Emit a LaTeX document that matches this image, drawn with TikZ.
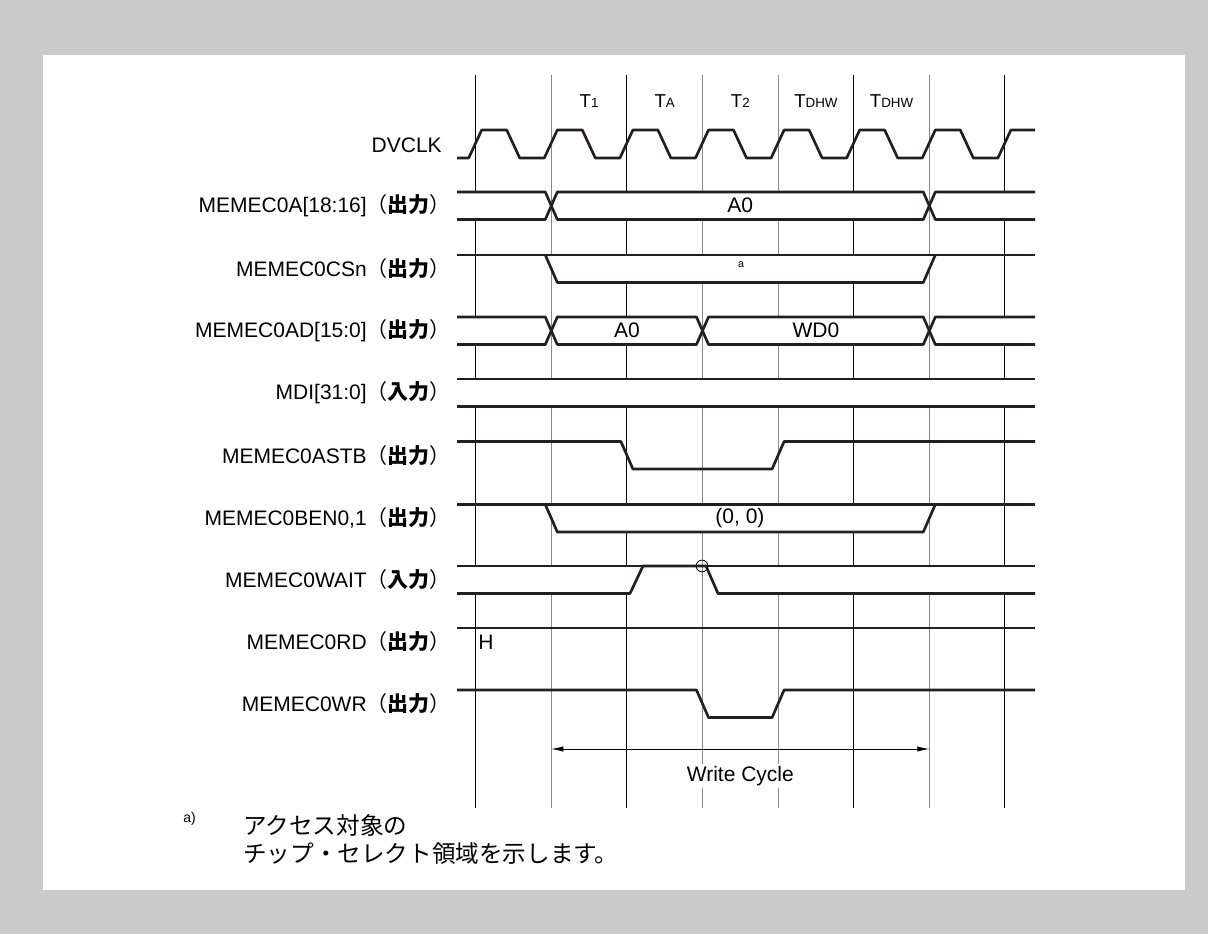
\documentclass[tikz,border=0pt]{standalone}
\usepackage{fontspec}
\setmainfont{Liberation Sans}
\newfontfamily\jpfont{Noto Sans CJK JP}
\usetikzlibrary{positioning,arrows.meta}

\definecolor{bggray}{HTML}{CBCBCB}
\definecolor{sigline}{HTML}{231F20}
\definecolor{midgray}{HTML}{8A8A8A}

\newcommand{\outtag}{{\jpfont（\textbf{出力}）}}
\newcommand{\intag}{{\jpfont（\textbf{入力}）}}
\newcommand{\tsub}[1]{T{\fontsize{10}{12}\selectfont #1}}

\tikzset{
  sig/.style={anchor=east,inner sep=0pt,font=\fontsize{15.75}{18}\selectfont},
  txt/.style={inner sep=0pt,font=\fontsize{15.75}{18}\selectfont},
  hdr/.style={anchor=base,inner sep=0pt,font=\fontsize{14}{16}\selectfont},
  wave/.style={draw=sigline,line width=2pt,line join=round},
  vline/.style={line width=0.75pt}
}

\begin{document}
\begin{tikzpicture}[x=0.75pt,y=-0.75pt]
\fill[bggray] (0,0) rectangle (1208,934);
\fill[white] (43,55) rectangle (1185,890);
\useasboundingbox (0,0) rectangle (1208,934);

% time grid
\foreach \k/\c in {0/black,1/midgray,2/black,3/midgray,4/midgray,5/black,6/midgray,7/black}
  \draw[vline,\c] ({475.7+75.6*\k},75) -- ({475.7+75.6*\k},808);

% cycle names
\node[hdr] (t1) at (589.1,108) {\tsub{1}};
\node[hdr] (ta) at (664.7,108) {\tsub{A}};
\node[hdr] (t2) at (740.3,108) {\tsub{2}};
\node[hdr] (tdhwa) at (815.9,108) {\tsub{DHW}};
\node[hdr] (tdhwb) at (891.5,108) {\tsub{DHW}};

% signal names
\node[sig] (clk) at (442,145) {DVCLK};
\node[sig] (adr) at (451,205.75) {MEMEC0A[18:16]\outtag};
\node[sig] (csn) at (451,268.75) {MEMEC0CSn\outtag};
\node[sig] (ad) at (451,330.75) {MEMEC0AD[15:0]\outtag};
\node[sig] (mdi) at (451,392.75) {MDI[31:0]\intag};
\node[sig] (astb) at (451,455.25) {MEMEC0ASTB\outtag};
\node[sig] (ben) at (451,518.25) {MEMEC0BEN0,1\outtag};
\node[sig] (wait) at (451,579.75) {MEMEC0WAIT\intag};
\node[sig] (rd) at (451,641.75) {MEMEC0RD\outtag};
\node[sig] (wr) at (451,703.75) {MEMEC0WR\outtag};

% DVCLK
\draw[wave] (457,158) \foreach \k in {0,...,6}{ -- ({468.7+75.6*\k},158) -- ({481.7+75.6*\k},130) -- ({506.7+75.6*\k},130) -- ({519.7+75.6*\k},158)} -- (997.9,158) -- (1010.9,130) -- (1035,130);

% MEMEC0A
\filldraw[wave,fill=white] (457,192) -- (545.3,192) -- (551.3,205.75) -- (545.3,219.5) -- (457,219.5);
\filldraw[wave,fill=white] (551.3,205.75) -- (557.3,192) -- (923.3,192) -- (929.3,205.75) -- (923.3,219.5) -- (557.3,219.5) -- cycle;
\filldraw[wave,fill=white] (1035,192) -- (935.3,192) -- (929.3,205.75) -- (935.3,219.5) -- (1035,219.5);
\node[txt] (adra0) at (740.3,205.75) {A0};

% MEMEC0CSn
\filldraw[wave,fill=white] (545.3,255) -- (557.3,282.5) -- (923.3,282.5) -- (935.3,255);
\draw[wave] (457,255) -- (1035,255);
\node[inner sep=0pt,font=\fontsize{8}{9}\selectfont] (csna) at (741,265) {a};

% MEMEC0AD
\filldraw[wave,fill=white] (457,317) -- (545.3,317) -- (551.3,330.75) -- (545.3,344.5) -- (457,344.5);
\filldraw[wave,fill=white] (551.3,330.75) -- (557.3,317) -- (696.5,317) -- (702.5,330.75) -- (696.5,344.5) -- (557.3,344.5) -- cycle;
\filldraw[wave,fill=white] (702.5,330.75) -- (708.5,317) -- (923.3,317) -- (929.3,330.75) -- (923.3,344.5) -- (708.5,344.5) -- cycle;
\filldraw[wave,fill=white] (1035,317) -- (935.3,317) -- (929.3,330.75) -- (935.3,344.5) -- (1035,344.5);
\node[txt] (ada0) at (626.9,330.75) {A0};
\node[txt] (adwd0) at (815.9,330.75) {WD0};

% MDI
\fill[white] (457,379) rectangle (1035,406.5);
\draw[wave] (457,379) -- (1035,379) (457,406.5) -- (1035,406.5);

% MEMEC0ASTB
\draw[wave] (457,441.5) -- (620.9,441.5) -- (632.9,469) -- (772.1,469) -- (784.1,441.5) -- (1035,441.5);

% MEMEC0BEN0,1
\filldraw[wave,fill=white] (545.3,504.5) -- (557.3,532) -- (923.3,532) -- (935.3,504.5);
\draw[wave] (457,504.5) -- (1035,504.5);
\node[txt] (benval) at (740,518.25) {(0, 0)};

% MEMEC0WAIT
\fill[white] (457,566) -- (643,566) -- (630,593.5) -- (457,593.5) -- cycle;
\fill[white] (706,566) -- (1035,566) -- (1035,593.5) -- (718,593.5) -- cycle;
\draw[wave] (457,566) -- (1035,566);
\draw[wave] (457,593.5) -- (630,593.5) -- (643,566) -- (706,566) -- (718,593.5) -- (1035,593.5);
\node[circle,draw,line width=0.6pt,inner sep=0pt,minimum size=8.8pt] (waitmark) at (702,566) {};

% MEMEC0RD, MEMEC0WR
\draw[wave] (457,628) -- (1035,628);
\node[txt] (rdh) at (486,642) {H};
\draw[wave] (457,690) -- (696.5,690) -- (708.5,717.5) -- (772.1,717.5) -- (784.1,690) -- (1035,690);

% write cycle
\coordinate (wcl) at (551.3,749);
\coordinate (wcr) at (929.3,749);
\draw[line width=0.6pt,{Latex[length=9pt,width=4pt]}-{Latex[length=9pt,width=4pt]}] (wcl) -- (wcr);
\node[txt,fill=white,inner sep=2pt] (wc) at (740.3,776) {Write Cycle};

% note
\node[anchor=west,inner sep=0pt,font=\fontsize{10.5}{12}\selectfont] (fna) at (183,819) {a)};
\node[anchor=base west,inner sep=0pt,align=left,font=\jpfont\fontsize{17.7}{21}\selectfont] (fnb) at (243,862) {アクセス対象の\\チップ・セレクト領域を示します。};
\end{tikzpicture}
\end{document}
